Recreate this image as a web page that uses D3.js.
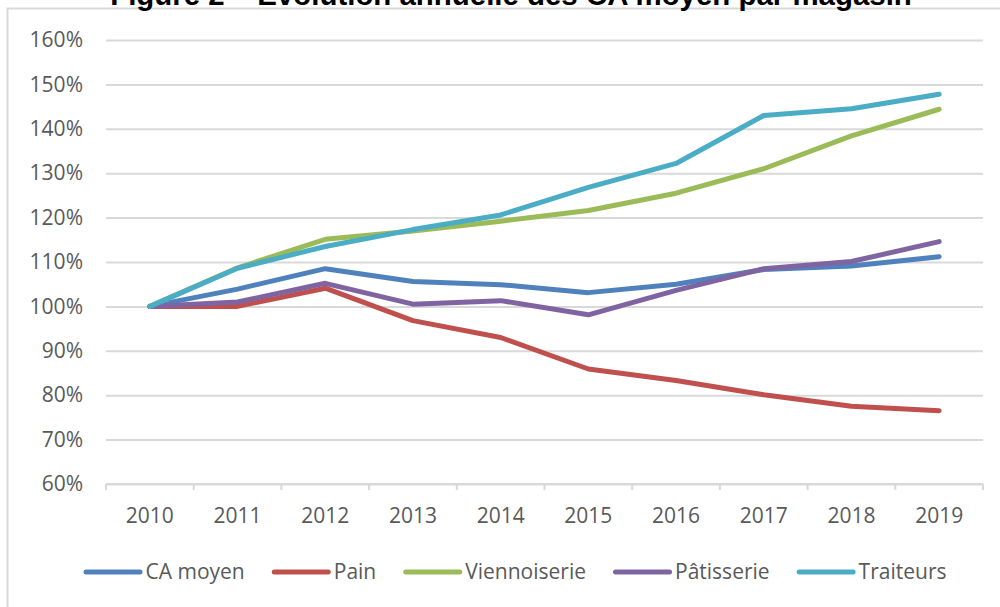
<!DOCTYPE html>
<html lang="fr">
<head>
    <meta charset="UTF-8">
    <title>Évolution annuelle des CA moyen par magasin</title>
    <script src="https://d3js.org/d3.v7.min.js"></script>
    <style>
        body { margin: 0; background: #fff; }
        svg { display: block; }
    </style>
</head>
<body>
    <div id="chart"></div>

    <script>
        // Data (index 2010 = 100%)
        const years = ["2010", "2011", "2012", "2013", "2014", "2015", "2016", "2017", "2018", "2019"];
        const caMoyen      = [100, 103.9, 108.5, 105.6, 104.9, 103.1, 105.0, 108.3, 109.1, 111.2];
        const pain         = [100, 100.0, 104.1, 96.8, 93.0, 85.9, 83.3, 80.1, 77.5, 76.5];
        const viennoiserie = [100, 108.7, 115.1, 117.0, 119.2, 121.6, 125.5, 131.0, 138.4, 144.4];
        const patisserie   = [100, 101.0, 105.2, 100.5, 101.3, 98.1, 103.6, 108.5, 110.1, 114.6];
        const traiteurs    = [100, 108.6, 113.5, 117.3, 120.6, 126.8, 132.2, 143.0, 144.5, 147.8];
        const yTicks = [60, 70, 80, 90, 100, 110, 120, 130, 140, 150, 160];

        const series = [
            { name: "CA moyen", values: caMoyen, color: "#4f81bd" },
            { name: "Pain", values: pain, color: "#c0504d" },
            { name: "Viennoiserie", values: viennoiserie, color: "#9bbb59" },
            { name: "Pâtisserie", values: patisserie, color: "#8064a2" },
            { name: "Traiteurs", values: traiteurs, color: "#4bacc6" }
        ];

        const W = 1000, H = 607;
        const plot = { left: 106, right: 983, top: 40, bottom: 484 };
        const font = "'Open Sans', sans-serif";
        const textColor = "#595959";
        const gridColor = "#d9d9d9";

        const svg = d3.select("#chart")
            .append("svg")
            .attr("width", W)
            .attr("height", H);

        // Chart frame (only left and top edges are visible)
        svg.append("path")
            .attr("d", `M7.5,${H} V8.5 H${W}`)
            .attr("fill", "none")
            .attr("stroke", gridColor)
            .attr("stroke-width", 2);

        // Title, cut off at the top like the reference
        const title = svg.append("text")
            .attr("x", 511)
            .attr("y", 5)
            .attr("text-anchor", "middle")
            .attr("font-family", "'Liberation Sans', Arial, sans-serif")
            .attr("font-weight", "bold")
            .attr("font-size", 24)
            .attr("fill", "#000")
            .text("Figure 2 – Évolution annuelle des CA moyen par magasin");
        const tw = title.node().getComputedTextLength();
        title.attr("font-size", 24 * 802 / tw);

        const x = d3.scaleBand()
            .domain(years)
            .range([plot.left, plot.right]);

        const y = d3.scaleLinear()
            .domain([60, 160])
            .range([plot.bottom, plot.top]);

        // Horizontal gridlines + y labels
        const yAxis = svg.append("g")
            .attr("transform", `translate(${plot.left},0)`)
            .call(d3.axisLeft(y)
                .tickValues(yTicks)
                .tickSize(-(plot.right - plot.left))
                .tickPadding(23)
                .tickFormat(d => d + "%"));
        yAxis.select(".domain").remove();
        yAxis.selectAll(".tick line")
            .attr("stroke", gridColor)
            .attr("stroke-width", 2);
        yAxis.selectAll(".tick text")
            .attr("font-family", font)
            .attr("font-size", 21)
            .attr("fill", textColor);

        // X axis: baseline, ticks at category boundaries, labels centred
        const xAxis = svg.append("g")
            .attr("transform", `translate(0,${plot.bottom})`);
        xAxis.append("line")
            .attr("x1", plot.left).attr("x2", plot.right)
            .attr("stroke", gridColor).attr("stroke-width", 2);
        xAxis.selectAll(".xtick")
            .data(years.map(d => x(d)).concat([plot.right]))
            .join("line")
            .attr("class", "xtick")
            .attr("x1", d => d).attr("x2", d => d)
            .attr("y1", 0).attr("y2", 6)
            .attr("stroke", gridColor).attr("stroke-width", 2);
        xAxis.selectAll(".xlabel")
            .data(years)
            .join("text")
            .attr("class", "xlabel")
            .attr("x", d => x(d) + x.bandwidth() / 2)
            .attr("y", 39)
            .attr("text-anchor", "middle")
            .attr("font-family", font)
            .attr("font-size", 21)
            .attr("fill", textColor)
            .text(d => d);

        // Lines
        const line = d3.line()
            .x((d, i) => x(years[i]) + x.bandwidth() / 2)
            .y(d => y(d));

        svg.append("g")
            .selectAll("path")
            .data(series)
            .join("path")
            .attr("d", d => line(d.values))
            .attr("fill", "none")
            .attr("stroke", d => d.color)
            .attr("stroke-width", 5)
            .attr("stroke-linejoin", "round")
            .attr("stroke-linecap", "round");

        // Legend
        const legend = svg.append("g");
        const legendY = 572;
        const itemGap = 27;
        let cursor = 0;
        series.forEach(s => {
            const g = legend.append("g");
            g.append("line")
                .attr("x1", cursor + 2.5).attr("x2", cursor + 56.5)
                .attr("y1", legendY).attr("y2", legendY)
                .attr("stroke", s.color)
                .attr("stroke-width", 5)
                .attr("stroke-linecap", "round");
            const t = g.append("text")
                .attr("x", cursor + 62)
                .attr("y", legendY)
                .attr("dy", "0.35em")
                .attr("font-family", font)
                .attr("font-size", 21)
                .attr("fill", textColor)
                .text(s.name);
            cursor += 62 + t.node().getComputedTextLength() + itemGap;
        });
        const legendW = cursor - itemGap;
        legend.attr("transform", `translate(${515 - legendW / 2},0)`);
    </script>
</body>
</html>
